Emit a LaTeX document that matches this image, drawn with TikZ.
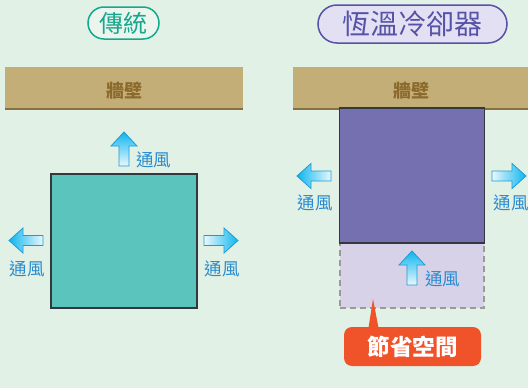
\documentclass[tikz,border=0pt]{standalone}
\usepackage{fontspec}
\newfontfamily\cjk{Noto Sans CJK TC}
\usetikzlibrary{calc}
\definecolor{bg}{HTML}{E2F1E5}
\definecolor{wallfill}{HTML}{C4AE78}
\definecolor{walltext}{HTML}{8C6A2C}
\definecolor{wallline}{HTML}{8A7040}
\definecolor{teal}{HTML}{5BC4BD}
\definecolor{tealtitle}{HTML}{14A88E}
\definecolor{purplebox}{HTML}{7570B0}
\definecolor{purpletitle}{HTML}{5552A8}
\definecolor{purplepill}{HTML}{E2E0F2}
\definecolor{spacefill}{HTML}{D7D2E8}
\definecolor{dashgray}{HTML}{9A9A9A}
\definecolor{callout}{HTML}{F0522A}
\definecolor{arrowcyan}{HTML}{0DB5EE}
\definecolor{arrowlight}{HTML}{EAF8FD}
\definecolor{arrowedge}{HTML}{1E9BD7}
\definecolor{labelblue}{HTML}{2A8CD0}
\definecolor{boxedge}{HTML}{333840}
\tikzset{
  arrowup/.pic={\path[draw=arrowedge, line width=0.8pt, top color=arrowcyan, bottom color=arrowlight]
    (0,0) -- (13,14) -- (5,14) -- (5,34) -- (-5,34) -- (-5,14) -- (-13,14) -- cycle;},
  arrowleft/.pic={\path[draw=arrowedge, line width=0.8pt, left color=arrowcyan, right color=arrowlight]
    (0,0) -- (14,-12.5) -- (14,-5) -- (34,-5) -- (34,5) -- (14,5) -- (14,12.5) -- cycle;},
  arrowright/.pic={\path[draw=arrowedge, line width=0.8pt, right color=arrowcyan, left color=arrowlight]
    (0,0) -- (-14,-12.5) -- (-14,-5) -- (-34,-5) -- (-34,5) -- (-14,5) -- (-14,12.5) -- cycle;},
  windlabel/.style={text=labelblue, font=\cjk\fontsize{17.5}{17.5}\selectfont, inner sep=0pt},
  wallbox/.style={fill=wallfill, inner sep=0pt, minimum height=42pt},
  walllabel/.style={text=walltext, font=\cjk\bfseries\fontsize{18}{18}\selectfont, inner sep=0pt},
}
\begin{document}
\begin{tikzpicture}[x=1pt,y=-1pt]
\fill[bg] (0,0) rectangle (528,388);
\useasboundingbox (0,0) rectangle (528,388);

% titles
\node[draw=tealtitle, line width=1.5pt, fill=white!30!bg, rounded corners=16pt, minimum width=71pt, minimum height=32pt, inner sep=0pt, text=tealtitle, font=\cjk\fontsize{24}{24}\selectfont] (titleL) at (123.5,23) {傳統};
\node[draw=purpletitle, line width=1.5pt, fill=purplepill, rounded corners=19pt, minimum width=189pt, minimum height=38pt, inner sep=0pt, text=purpletitle, font=\cjk\fontsize{28}{28}\selectfont] (titleR) at (412.5,24) {恆溫冷卻器};

% walls
\node[wallbox, minimum width=238pt] (wallL) at (124,88) {};
\draw[wallline, line width=1.5pt] (wallL.south west) -- (wallL.south east);
\node[walllabel] (wallLtxt) at (124,91) {牆壁};
\node[wallbox, minimum width=238pt] (wallR) at (412,88) {};
\draw[wallline, line width=1.5pt] (wallR.south west) -- (wallR.south east);
\node[walllabel] (wallRtxt) at (411,91) {牆壁};

% traditional unit
\node[fill=teal, draw=boxedge, line width=1.2pt, minimum width=146pt, minimum height=134pt, inner sep=0pt] (unitL) at (124,241) {};
\pic at (124,132) {arrowup};
\node[windlabel, anchor=west] (lblLup) at (136,160) {通風};
\pic at (9,240.5) {arrowleft};
\node[windlabel] (lblLleft) at (27,269) {通風};
\pic at (238,240.5) {arrowright};
\node[windlabel] (lblLright) at (222,269) {通風};

% cooler unit
\node[fill=spacefill, draw=dashgray, line width=1.5pt, dash pattern=on 6pt off 4pt, minimum width=144pt, minimum height=65pt, inner sep=0pt] (space) at (412,275.5) {};
\node[fill=purplebox, draw=boxedge, line width=1.2pt, minimum width=145pt, minimum height=135pt, inner sep=0pt] (unitR) at (412,175.5) {};
\pic at (297,176) {arrowleft};
\node[windlabel] (lblRleft) at (315,203) {通風};
\pic at (526,176) {arrowright};
\node[windlabel] (lblRright) at (511,203) {通風};
\pic at (412,251) {arrowup};
\node[windlabel, anchor=west] (lblRup) at (425,279) {通風};

% callout
\node[fill=callout, rounded corners=8pt, minimum width=137pt, minimum height=39pt, inner sep=0pt, text=white, font=\cjk\bfseries\fontsize{22.5}{22.5}\selectfont] (save) at (412.5,346.5) {節省空間};
\coordinate (saveTip) at (373,299);
\fill[callout] ($(save.north)+(-44,1)$) -- (saveTip) -- ($(save.north)+(-34,1)$) -- cycle;
\end{tikzpicture}
\end{document}
